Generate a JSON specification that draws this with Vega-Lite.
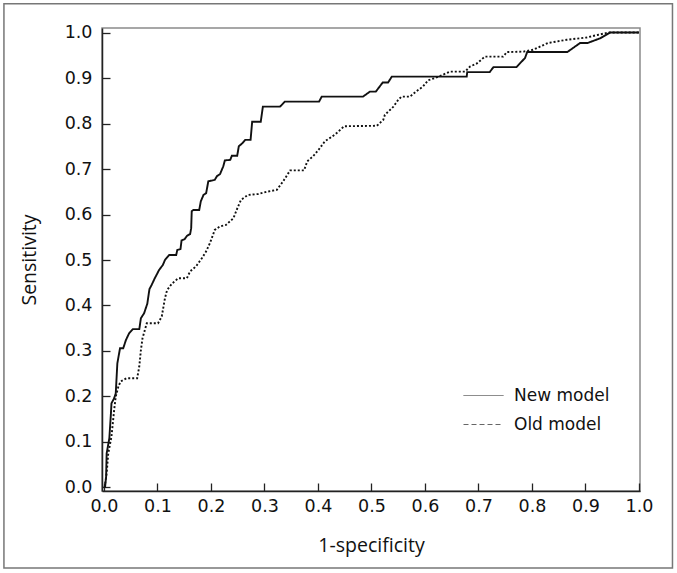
{
  "$schema": "https://vega.github.io/schema/vega-lite/v6.json",
  "width": 538,
  "height": 463,
  "autosize": {"type": "none"},
  "padding": {"left": 102, "top": 28, "right": 37, "bottom": 82},
  "background": "white",
  "config": {"view": {"stroke": "#8a8a8a", "strokeWidth": 1.5}, "font": "DejaVu Sans"},
  "datasets": {
    "roc": [
      {"model":"New model","x":0.002,"y":0},{"model":"New model","x":0.004,"y":0.024},{"model":"New model","x":0.005,"y":0.075},{"model":"New model","x":0.010,"y":0.108},{"model":"New model","x":0.013,"y":0.163},{"model":"New model","x":0.014,"y":0.185},{"model":"New model","x":0.019,"y":0.196},{"model":"New model","x":0.022,"y":0.207},{"model":"New model","x":0.025,"y":0.273},{"model":"New model","x":0.030,"y":0.306},{"model":"New model","x":0.036,"y":0.306},{"model":"New model","x":0.041,"y":0.324},{"model":"New model","x":0.047,"y":0.339},{"model":"New model","x":0.054,"y":0.348},{"model":"New model","x":0.066,"y":0.348},{"model":"New model","x":0.069,"y":0.372},{"model":"New model","x":0.075,"y":0.383},{"model":"New model","x":0.081,"y":0.404},{"model":"New model","x":0.085,"y":0.436},{"model":"New model","x":0.089,"y":0.445},{"model":"New model","x":0.095,"y":0.46},{"model":"New model","x":0.103,"y":0.478},{"model":"New model","x":0.110,"y":0.489},{"model":"New model","x":0.114,"y":0.5},{"model":"New model","x":0.122,"y":0.511},{"model":"New model","x":0.135,"y":0.511},{"model":"New model","x":0.137,"y":0.522},{"model":"New model","x":0.143,"y":0.524},{"model":"New model","x":0.145,"y":0.543},{"model":"New model","x":0.151,"y":0.546},{"model":"New model","x":0.155,"y":0.553},{"model":"New model","x":0.161,"y":0.557},{"model":"New model","x":0.163,"y":0.57},{"model":"New model","x":0.164,"y":0.607},{"model":"New model","x":0.167,"y":0.61},{"model":"New model","x":0.178,"y":0.61},{"model":"New model","x":0.181,"y":0.629},{"model":"New model","x":0.186,"y":0.643},{"model":"New model","x":0.191,"y":0.647},{"model":"New model","x":0.195,"y":0.673},{"model":"New model","x":0.207,"y":0.676},{"model":"New model","x":0.211,"y":0.684},{"model":"New model","x":0.217,"y":0.689},{"model":"New model","x":0.223,"y":0.706},{"model":"New model","x":0.226,"y":0.719},{"model":"New model","x":0.236,"y":0.72},{"model":"New model","x":0.239,"y":0.729},{"model":"New model","x":0.249,"y":0.729},{"model":"New model","x":0.252,"y":0.75},{"model":"New model","x":0.259,"y":0.757},{"model":"New model","x":0.264,"y":0.764},{"model":"New model","x":0.274,"y":0.764},{"model":"New model","x":0.277,"y":0.804},{"model":"New model","x":0.293,"y":0.804},{"model":"New model","x":0.297,"y":0.837},{"model":"New model","x":0.329,"y":0.837},{"model":"New model","x":0.338,"y":0.848},{"model":"New model","x":0.402,"y":0.848},{"model":"New model","x":0.407,"y":0.859},{"model":"New model","x":0.484,"y":0.859},{"model":"New model","x":0.497,"y":0.87},{"model":"New model","x":0.508,"y":0.87},{"model":"New model","x":0.521,"y":0.89},{"model":"New model","x":0.531,"y":0.89},{"model":"New model","x":0.538,"y":0.903},{"model":"New model","x":0.678,"y":0.903},{"model":"New model","x":0.679,"y":0.913},{"model":"New model","x":0.721,"y":0.913},{"model":"New model","x":0.728,"y":0.924},{"model":"New model","x":0.771,"y":0.924},{"model":"New model","x":0.787,"y":0.944},{"model":"New model","x":0.791,"y":0.957},{"model":"New model","x":0.866,"y":0.957},{"model":"New model","x":0.89,"y":0.977},{"model":"New model","x":0.904,"y":0.977},{"model":"New model","x":0.927,"y":0.987},{"model":"New model","x":0.946,"y":1.0},{"model":"New model","x":1.0,"y":1.0},
      {"model":"Old model","x":0.001,"y":0},{"model":"Old model","x":0.005,"y":0.031},{"model":"Old model","x":0.008,"y":0.075},{"model":"Old model","x":0.014,"y":0.112},{"model":"Old model","x":0.019,"y":0.17},{"model":"Old model","x":0.022,"y":0.2},{"model":"Old model","x":0.027,"y":0.222},{"model":"Old model","x":0.031,"y":0.233},{"model":"Old model","x":0.042,"y":0.24},{"model":"Old model","x":0.062,"y":0.24},{"model":"Old model","x":0.066,"y":0.266},{"model":"Old model","x":0.069,"y":0.302},{"model":"Old model","x":0.072,"y":0.328},{"model":"Old model","x":0.080,"y":0.361},{"model":"Old model","x":0.101,"y":0.361},{"model":"Old model","x":0.108,"y":0.376},{"model":"Old model","x":0.114,"y":0.416},{"model":"Old model","x":0.118,"y":0.434},{"model":"Old model","x":0.127,"y":0.448},{"model":"Old model","x":0.139,"y":0.46},{"model":"Old model","x":0.155,"y":0.46},{"model":"Old model","x":0.161,"y":0.475},{"model":"Old model","x":0.172,"y":0.486},{"model":"Old model","x":0.183,"y":0.504},{"model":"Old model","x":0.191,"y":0.519},{"model":"Old model","x":0.198,"y":0.537},{"model":"Old model","x":0.207,"y":0.566},{"model":"Old model","x":0.217,"y":0.574},{"model":"Old model","x":0.228,"y":0.577},{"model":"Old model","x":0.242,"y":0.592},{"model":"Old model","x":0.249,"y":0.613},{"model":"Old model","x":0.256,"y":0.632},{"model":"Old model","x":0.269,"y":0.643},{"model":"Old model","x":0.288,"y":0.645},{"model":"Old model","x":0.304,"y":0.65},{"model":"Old model","x":0.323,"y":0.654},{"model":"Old model","x":0.335,"y":0.673},{"model":"Old model","x":0.348,"y":0.697},{"model":"Old model","x":0.374,"y":0.697},{"model":"Old model","x":0.380,"y":0.717},{"model":"Old model","x":0.391,"y":0.728},{"model":"Old model","x":0.401,"y":0.742},{"model":"Old model","x":0.413,"y":0.761},{"model":"Old model","x":0.426,"y":0.771},{"model":"Old model","x":0.435,"y":0.779},{"model":"Old model","x":0.449,"y":0.794},{"model":"Old model","x":0.510,"y":0.795},{"model":"Old model","x":0.522,"y":0.808},{"model":"Old model","x":0.525,"y":0.819},{"model":"Old model","x":0.541,"y":0.837},{"model":"Old model","x":0.550,"y":0.852},{"model":"Old model","x":0.556,"y":0.859},{"model":"Old model","x":0.572,"y":0.859},{"model":"Old model","x":0.583,"y":0.87},{"model":"Old model","x":0.596,"y":0.881},{"model":"Old model","x":0.606,"y":0.895},{"model":"Old model","x":0.619,"y":0.9},{"model":"Old model","x":0.647,"y":0.914},{"model":"Old model","x":0.675,"y":0.914},{"model":"Old model","x":0.684,"y":0.925},{"model":"Old model","x":0.697,"y":0.932},{"model":"Old model","x":0.712,"y":0.947},{"model":"Old model","x":0.746,"y":0.947},{"model":"Old model","x":0.753,"y":0.957},{"model":"Old model","x":0.784,"y":0.958},{"model":"Old model","x":0.802,"y":0.962},{"model":"Old model","x":0.830,"y":0.977},{"model":"Old model","x":0.865,"y":0.984},{"model":"Old model","x":0.902,"y":0.989},{"model":"Old model","x":0.924,"y":0.995},{"model":"Old model","x":0.943,"y":1.0},{"model":"Old model","x":1.0,"y":1.0}
    ]
  },
  "layer": [
    {
      "data": {"name": "roc"},
      "mark": {"type": "line", "color": "#111", "strokeWidth": 1.9},
      "encoding": {
        "x": {
          "field": "x", "type": "quantitative",
          "scale": {"domain": [-0.0037, 1.0019], "nice": false, "zero": false},
          "axis": {
            "values": [0, 0.1, 0.2, 0.3, 0.4, 0.5, 0.6, 0.7, 0.8, 0.9, 1.0],
            "format": ".1f", "grid": false,
            "labelFont": "DejaVu Sans", "labelFontSize": 17.5, "labelColor": "#111", "labelPadding": 14.5, "labelFlush": false,
            "tickSize": -8, "tickColor": "#222", "tickWidth": 1.3,
            "domainColor": "#222", "domainWidth": 1.5,
            "title": "1-specificity", "titleFont": "Open Sans", "titleFontSize": 19.5, "titleFontWeight": "normal", "titleColor": "#111", "titlePadding": 21
          }
        },
        "y": {
          "field": "y", "type": "quantitative",
          "scale": {"domain": [-0.0077, 1.0099], "nice": false, "zero": false},
          "axis": {
            "values": [0, 0.1, 0.2, 0.3, 0.4, 0.5, 0.6, 0.7, 0.8, 0.9, 1.0],
            "format": ".1f", "grid": false,
            "labelFont": "DejaVu Sans", "labelFontSize": 17.5, "labelColor": "#111", "labelPadding": 18, "labelFlush": false,
            "tickSize": -8, "tickColor": "#222", "tickWidth": 1.3,
            "domainColor": "#222", "domainWidth": 1.5,
            "title": "Sensitivity", "titleFont": "Open Sans", "titleFontSize": 19.5, "titleFontWeight": "normal", "titleColor": "#111", "titlePadding": 24.5
          }
        },
        "strokeDash": {
          "field": "model", "type": "nominal",
          "scale": {"domain": ["New model", "Old model"], "range": [[1, 0], [2, 2]]},
          "legend": null
        }
      }
    },
    {
      "data": {"name": "roc"},
      "transform": [{"filter": "datum.x < -1"}],
      "mark": {"type": "line", "color": "#666", "strokeWidth": 1},
      "encoding": {
        "x": {"field": "x", "type": "quantitative"},
        "y": {"field": "y", "type": "quantitative"},
        "strokeDash": {
          "field": "model", "type": "nominal",
          "scale": {"domain": ["New model", "Old model"], "range": [[1, 0], [5, 3]]},
          "legend": {
            "title": null, "orient": "none", "legendX": 361, "legendY": 347,
            "padding": 0, "symbolType": "stroke", "symbolSize": 1600,
            "symbolStrokeColor": "#666", "symbolStrokeWidth": 1,
            "labelFont": "DejaVu Sans", "labelFontSize": 17, "labelColor": "#111",
            "labelOffset": 10, "rowPadding": -12
          }
        }
      }
    },
    {
      "data": {"values": [{}]},
      "mark": {"type": "rect", "filled": false, "stroke": "#777", "strokeWidth": 1.5, "clip": false},
      "encoding": {
        "x": {"datum": -0.187, "type": "quantitative"},
        "x2": {"datum": 1.0626},
        "y": {"datum": 1.0633, "type": "quantitative"},
        "y2": {"datum": -0.177}
      }
    }
  ],
  "resolve": {"scale": {"strokeDash": "independent"}}
}
